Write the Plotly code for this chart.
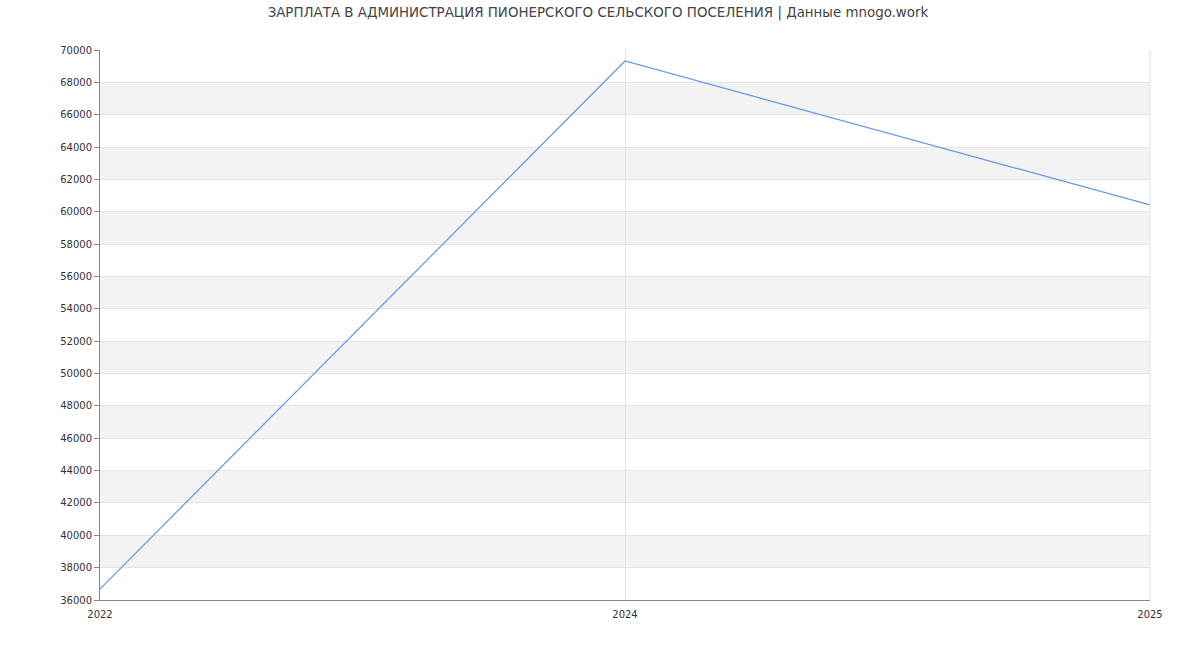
import plotly.graph_objects as go

years = ["2022", "2024", "2025"]
salary = [36680, 69320, 60420]
y_ticks = list(range(36000, 70001, 2000))
band_starts = [38000, 42000, 46000, 50000, 54000, 58000, 62000, 66000]

fig = go.Figure()
fig.add_trace(go.Scatter(x=years, y=salary, mode="lines",
                         line=dict(color="#6495ED", width=1.2),
                         hoverinfo="x+y"))

shapes = []
for b in band_starts:
    shapes.append(dict(type="rect", xref="paper", yref="y", x0=0, x1=1,
                       y0=b, y1=b + 2000, fillcolor="#F3F3F3",
                       line=dict(width=0), layer="below"))
shapes.append(dict(type="line", xref="paper", yref="paper", x0=1, x1=1, y0=0, y1=1,
                   line=dict(color="#E3E3E3", width=1), layer="below"))

fig.update_layout(
    width=1200, height=650,
    margin=dict(l=100, r=50, t=50, b=50),
    paper_bgcolor="white", plot_bgcolor="white",
    showlegend=False,
    shapes=shapes,
    title=dict(text="ЗАРПЛАТА В АДМИНИСТРАЦИЯ ПИОНЕРСКОГО СЕЛЬСКОГО ПОСЕЛЕНИЯ | Данные mnogo.work",
               x=0.4983, xanchor="center", y=1 - 12 / 650, yanchor="middle",
               font=dict(family="DejaVu Sans", size=13.4, color="#444444")),
    font=dict(family="DejaVu Sans", size=11, color="#333333"),
)
fig.update_xaxes(type="category", range=[0, 2], showgrid=True, gridcolor="#E3E3E3",
                 showline=True, linecolor="#888888", linewidth=1,
                 ticks="outside", ticklen=5, tickcolor="rgba(0,0,0,0)",
                 tickfont=dict(size=10, color="#333333"), zeroline=False,
                 fixedrange=True)
fig.update_yaxes(range=[36000, 70000], tickvals=y_ticks, tickformat="d",
                 showgrid=True, gridcolor="#E3E3E3",
                 showline=True, linecolor="#888888", linewidth=1,
                 ticks="outside", ticklen=5, tickcolor="#888888",
                 tickfont=dict(size=10, color="#333333"), zeroline=False,
                 fixedrange=True)

fig.write_html("out.html", config={"displayModeBar": False},
               post_script="document.body.style.margin='0';document.body.style.padding='0';")
